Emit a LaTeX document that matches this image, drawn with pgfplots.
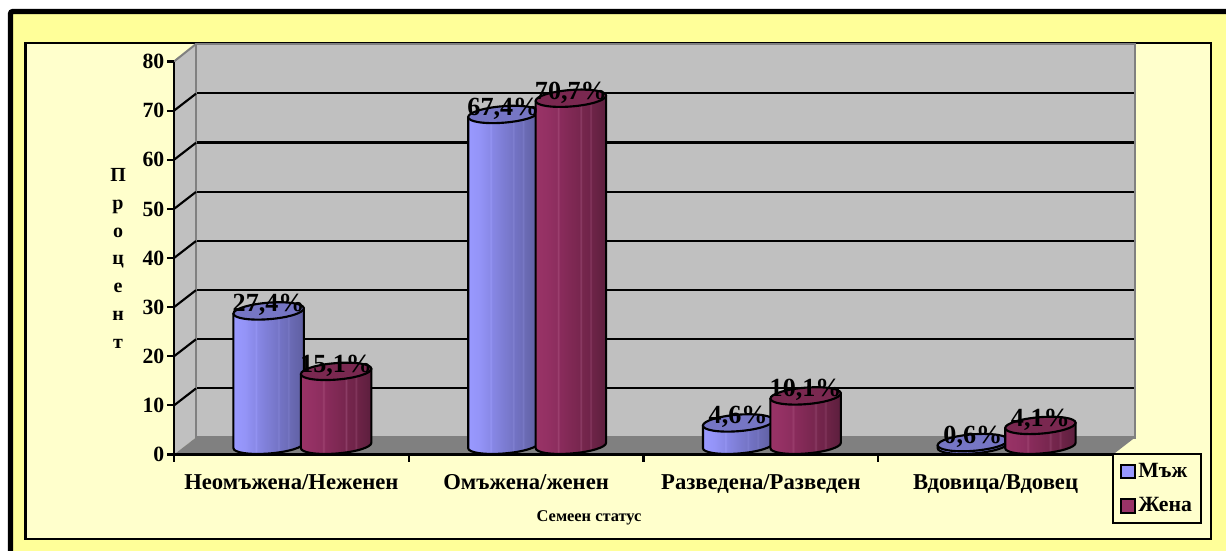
\documentclass[border=0pt]{standalone}
\usepackage{fontspec}
\setmainfont{Liberation Serif}
\usepackage{pgfplots}
\pgfplotsset{compat=1.18}
\usepackage{pgfplotstable}

\definecolor{outerY}{HTML}{FFFF99}
\definecolor{innerY}{HTML}{FFFFCC}
\definecolor{wall}{HTML}{C0C0C0}
\definecolor{floorgray}{HTML}{808080}
\definecolor{maleC}{HTML}{9999FF}
\definecolor{femaleC}{HTML}{993366}
\definecolor{maleTop}{HTML}{7676C4}
\definecolor{femaleTop}{HTML}{7A2850}

% body gradients of the two cylinder series (path box maps onto 25bp..75bp), with faint ribs
\pgfdeclarehorizontalshading{cylmale}{100bp}{rgb(0bp)=(.60,.60,1); rgb(25bp)=(.60,.60,1); rgb(33bp)=(.58,.58,.97); rgb(40bp)=(.54,.54,.91); rgb(41bp)=(.58,.58,.95); rgb(42bp)=(.53,.53,.90); rgb(50bp)=(.49,.49,.83); rgb(56bp)=(.46,.46,.78); rgb(57bp)=(.50,.50,.82); rgb(58bp)=(.45,.45,.77); rgb(63bp)=(.43,.43,.73); rgb(64bp)=(.47,.47,.77); rgb(65bp)=(.42,.42,.71); rgb(75bp)=(.37,.37,.63); rgb(100bp)=(.37,.37,.63)}
\pgfdeclarehorizontalshading{cylfemale}{100bp}{rgb(0bp)=(.60,.20,.40); rgb(25bp)=(.60,.20,.40); rgb(33bp)=(.58,.19,.39); rgb(40bp)=(.55,.18,.37); rgb(41bp)=(.62,.26,.44); rgb(42bp)=(.54,.17,.36); rgb(50bp)=(.50,.16,.33); rgb(56bp)=(.47,.15,.31); rgb(57bp)=(.55,.24,.40); rgb(58bp)=(.46,.15,.30); rgb(63bp)=(.44,.14,.29); rgb(64bp)=(.52,.22,.37); rgb(65bp)=(.43,.14,.28); rgb(75bp)=(.36,.12,.24); rgb(100bp)=(.36,.12,.24)}

\pgfdeclareplotmark{nothing}{}

% one cylinder: #1 body shading, #2 top colour, #3 horizontal shift of the series
\newcommand{\cylinderat}[3]{%
  \pgfmathsetmacro\cylh{\barv*3.684}%
  \pgftransformxshift{#3}\pgftransformyshift{6.75pt}\pgftransformyslant{0.075}%
  \path[shading=#1, draw=black, line width=1.6pt, line join=round]
    (-26.4pt,0pt) -- (-26.4pt,-\cylh pt)
    arc[start angle=180, end angle=360, x radius=26.4pt, y radius=6pt]
    -- (26.4pt,0pt) -- cycle;
  \path[fill=#2, draw=black, line width=1.6pt] (0pt,0pt) ellipse[x radius=26.4pt, y radius=6.2pt];%
}

\pgfplotstableread{
x    v
0.5  27.4
1.5  67.4
2.5  4.6
3.5  0.6
}\maledata
\pgfplotstableread{
x    v
0.5  15.1
1.5  70.7
2.5  10.1
3.5  4.1
}\femaledata

\begin{document}
\begin{tikzpicture}[x=0.75pt,y=-0.75pt]
\useasboundingbox (0,0) rectangle (1226,550);
\begin{scope}
\clip (0,0) rectangle (1226,550);
% card and inner panel
\path[fill=outerY, draw=black, line width=3.8pt, rounded corners=1.5pt] (10.5,11.5) rectangle (1260,580);
\path[fill=innerY, draw=black, line width=1.8pt] (25.5,43) rectangle (1211,539);
% side wall and floor of the chart box
\path[fill=wall] (174,61.5) -- (196,44) -- (196,437.5) -- (174,454.5) -- cycle;
\path[fill=floorgray] (174,454.5) -- (196,437.5) -- (1135,437.5) -- (1113,454.5) -- cycle;
\draw[floorgray, line width=1.5pt] (174,61.5) -- (196,44);
\draw[floorgray!70!wall, line width=1.5pt] (196,437.5) -- (1135,437.5);
\end{scope}

% back wall with the horizontal grid
\begin{axis}[
  at={(147pt,-328.1pt)}, anchor=south west, scale only axis,
  width=704pt, height=295pt,
  xmin=0, xmax=4, ymin=0, ymax=80,
  xtick=\empty, ytick={10,20,...,70}, yticklabels={},
  major tick length=0pt,
  ymajorgrids, grid style={black, line width=1.6pt},
  axis background/.style={fill=wall},
  axis line style={floorgray, line width=1.6pt},
]
\end{axis}

% front axes, cylinders, labels, legend
\begin{axis}[
  at={(130.5pt,-340.9pt)}, anchor=south west, scale only axis,
  width=704.25pt, height=294.75pt,
  xmin=0, xmax=4, ymin=0, ymax=80,
  clip=false,
  axis lines=left, axis line style={black, line width=1.6pt, -},
  every tick/.style={black, line width=1.6pt},
  tick align=outside, major tick length=5.25pt,
  xtick={0,1,2,3,4}, xticklabels={},
  extra x ticks={0.5,1.5,2.5,3.5},
  extra x tick labels={Неомъжена/Неженен,Омъжена/женен,Разведена/Разведен,Вдовица/Вдовец},
  extra x tick style={major tick length=0pt, xticklabel style={font=\fontsize{17}{20}\selectfont\bfseries, yshift=-11.5pt}},
  ytick={0,10,...,80},
  yticklabel style={font=\fontsize{16.3}{19}\selectfont\bfseries, xshift=1.5pt},
  /pgf/number format/assume math mode=true,
  xlabel={Семеен статус},
  xlabel style={at={(axis description cs:0.442,-0.16)}, anchor=center, font=\fontsize{12.3}{14}\selectfont\bfseries},
  ylabel={П\\р\\о\\ц\\е\\н\\т},
  ylabel style={rotate=-90, at={(axis description cs:-0.0596,0.499)}, anchor=center, align=center,
    font=\fontsize{15}{20.9}\selectfont\bfseries},
  legend style={
    at={(axis cs:3.996,0)}, anchor=north west, yshift=1.2pt, draw=black, line width=1.6pt, fill=innerY,
    font=\fontsize{16.3}{19}\selectfont\bfseries,
    inner xsep=5pt, inner ysep=5pt, row sep=9.5pt,
    legend cell align=left,
  },
  legend image code/.code={\path[draw=black, line width=1.5pt, #1] (0pt,-5.2pt) rectangle (10.5pt,5.2pt);},
]
% depth lines joining the axis to the back wall
\pgfplotsinvokeforeach{10,20,...,70}{
  \draw[black, line width=1.6pt] (axis cs:0,#1) -- ([shift={(16.5pt,12.75pt)}]axis cs:0,#1);
}

\addplot[scatter, only marks, mark=nothing, fill=maleC,
  visualization depends on={rawy \as \barv},
  scatter/@pre marker code/.code={\cylinderat{cylmale}{maleTop}{-17.06pt}},
  scatter/@post marker code/.code={}]
  table[x=x,y=v]{\maledata};
\addlegendentry{Мъж}

\addplot[scatter, only marks, mark=nothing, fill=femaleC,
  visualization depends on={rawy \as \barv},
  scatter/@pre marker code/.code={\cylinderat{cylfemale}{femaleTop}{33.56pt}},
  scatter/@post marker code/.code={}]
  table[x=x,y=v]{\femaledata};
\addlegendentry{Жена}

% value labels sit above both series
\pgfplotsset{value label/.style={forget plot, only marks, mark=nothing, point meta=y,
  nodes near coords={\pgfmathprintnumber[fixed,fixed zerofill,precision=1,use comma]{\pgfplotspointmeta}\%},
  every node near coord/.append style={anchor=center, black, inner sep=0pt,
    font=\fontsize{19.6}{23}\selectfont\bfseries, xshift=#1, yshift=11pt}}}
\addplot[value label=-17.06pt] table[x=x,y=v]{\maledata};
\addplot[value label=33.56pt] table[x=x,y=v]{\femaledata};
\end{axis}
\end{tikzpicture}
\end{document}
